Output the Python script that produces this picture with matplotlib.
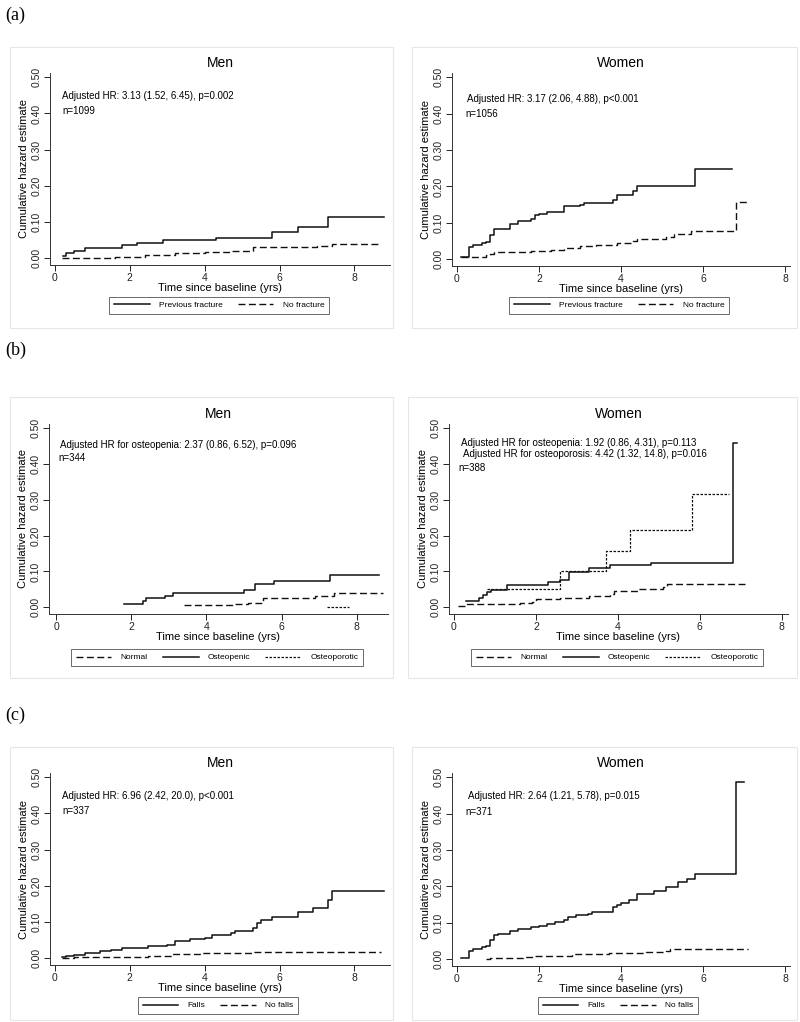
import matplotlib
matplotlib.use("Agg")
import matplotlib.pyplot as plt
from matplotlib.lines import Line2D
from matplotlib.patches import Rectangle

# ---- data (time in yrs, cumulative hazard) ----

# (a) previous fracture
a_men_prev_t = [0.22, 0.3, 0.5, 0.8, 1.8, 2.2, 2.9, 4.3, 5.8, 6.5, 7.3]
a_men_prev_h = [0.005, 0.013, 0.020, 0.028, 0.035, 0.042, 0.049, 0.057, 0.072, 0.085, 0.115]
a_men_prev_end = 8.8
a_men_none_t = [0.2, 1.6, 2.4, 3.2, 4.0, 4.7, 5.3, 7.0, 7.4]
a_men_none_h = [0.0, 0.004, 0.008, 0.013, 0.017, 0.021, 0.031, 0.034, 0.038]
a_men_none_end = 8.7

a_women_prev_t = [0.1, 0.3, 0.4, 0.6, 0.7, 0.8, 0.9, 1.3, 1.5, 1.8, 1.9, 2.0, 2.2, 2.6,
                  3.0, 3.1, 3.8, 3.9, 4.3, 4.4, 5.8]
a_women_prev_h = [0.005, 0.032, 0.040, 0.043, 0.048, 0.067, 0.082, 0.096, 0.105, 0.111,
                  0.120, 0.125, 0.130, 0.145, 0.150, 0.155, 0.162, 0.177, 0.186, 0.202, 0.247]
a_women_prev_end = 6.7
a_women_none_t = [0.1, 0.6, 0.7, 0.8, 0.9, 1.8, 2.3, 2.6, 3.0, 3.4, 3.9, 4.3, 4.4, 5.1,
                  5.3, 5.7, 6.8]
a_women_none_h = [0.005, 0.007, 0.010, 0.015, 0.019, 0.023, 0.025, 0.030, 0.035, 0.040,
                  0.045, 0.050, 0.055, 0.062, 0.070, 0.077, 0.157]
a_women_none_end = 7.1

# (b) bone density
b_men_normal_t = [3.4, 4.7, 5.1, 5.5, 6.9, 7.4]
b_men_normal_h = [0.005, 0.009, 0.013, 0.027, 0.031, 0.040]
b_men_normal_end = 8.7
b_men_penic_t = [1.8, 2.3, 2.4, 2.9, 3.1, 5.0, 5.3, 5.8, 7.3]
b_men_penic_h = [0.009, 0.018, 0.026, 0.032, 0.040, 0.048, 0.065, 0.073, 0.089]
b_men_penic_end = 8.6
b_men_porotic_t = [7.2]
b_men_porotic_h = [0.0]
b_men_porotic_end = 7.8

b_women_normal_t = [0.1, 0.3, 1.6, 1.9, 2.0, 2.6, 3.3, 3.8, 3.9, 4.5, 5.1, 5.2]
b_women_normal_h = [0.004, 0.008, 0.012, 0.015, 0.022, 0.027, 0.030, 0.038, 0.044, 0.050,
                    0.057, 0.065]
b_women_normal_end = 7.1
b_women_penic_t = [0.3, 0.6, 0.7, 0.8, 0.9, 1.3, 2.3, 2.6, 2.8, 3.3, 3.8, 4.8, 6.8]
b_women_penic_h = [0.018, 0.027, 0.035, 0.042, 0.049, 0.063, 0.070, 0.077, 0.097, 0.110,
                   0.117, 0.124, 0.458]
b_women_penic_end = 6.9
b_women_porotic_t = [0.8, 2.6, 3.7, 4.3, 5.8]
b_women_porotic_h = [0.050, 0.102, 0.156, 0.216, 0.317]
b_women_porotic_end = 6.7

# (c) falls
c_men_falls_t = [0.2, 0.3, 0.5, 0.8, 1.2, 1.5, 1.8, 2.5, 3.0, 3.2, 3.6, 4.0, 4.2, 4.7,
                 4.8, 5.3, 5.4, 5.5, 5.8, 6.5, 6.9, 7.3, 7.4]
c_men_falls_h = [0.002, 0.005, 0.009, 0.014, 0.019, 0.023, 0.028, 0.033, 0.037, 0.047,
                 0.052, 0.057, 0.063, 0.069, 0.074, 0.083, 0.097, 0.105, 0.114, 0.127,
                 0.140, 0.162, 0.185]
c_men_falls_end = 8.8
c_men_nofalls_t = [0.2, 0.5, 1.8, 2.5, 3.1, 3.9, 5.3]
c_men_nofalls_h = [0.0, 0.002, 0.004, 0.007, 0.011, 0.014, 0.017]
c_men_nofalls_end = 8.7

c_women_falls_t = [0.1, 0.3, 0.4, 0.6, 0.7, 0.8, 0.9, 1.0, 1.3, 1.5, 1.8, 2.0, 2.2, 2.4,
                   2.6, 2.7, 2.9, 3.2, 3.3, 3.8, 3.9, 4.0, 4.2, 4.4, 4.8, 5.1, 5.4, 5.6,
                   5.8, 6.8]
c_women_falls_h = [0.003, 0.022, 0.027, 0.032, 0.037, 0.053, 0.066, 0.068, 0.077, 0.082,
                   0.089, 0.092, 0.097, 0.102, 0.108, 0.115, 0.120, 0.125, 0.130, 0.142,
                   0.150, 0.155, 0.163, 0.179, 0.188, 0.199, 0.212, 0.219, 0.235, 0.487]
c_women_falls_end = 7.0
c_women_nofalls_t = [0.7, 0.8, 1.6, 1.9, 2.8, 3.7, 4.6, 5.1, 5.2]
c_women_nofalls_h = [0.0, 0.004, 0.007, 0.009, 0.013, 0.017, 0.019, 0.022, 0.028]
c_women_nofalls_end = 7.1

# annotation texts
a_men_text = ["Adjusted HR: 3.13 (1.52, 6.45), p=0.002", "n=1099"]
a_women_text = ["Adjusted HR: 3.17 (2.06, 4.88), p<0.001", "n=1056"]
b_men_text = ["Adjusted HR for osteopenia: 2.37 (0.86, 6.52), p=0.096", "n=344"]
b_women_text = ["Adjusted HR for osteopenia: 1.92 (0.86, 4.31), p=0.113",
                "Adjusted HR for osteoporosis: 4.42 (1.32, 14.8), p=0.016", "n=388"]
c_men_text = ["Adjusted HR: 6.96 (2.42, 20.0), p<0.001", "n=337"]
c_women_text = ["Adjusted HR: 2.64 (1.21, 5.78), p=0.015", "n=371"]

a_labels = ["Previous fracture", "No fracture"]
b_labels = ["Normal", "Osteopenic", "Osteoporotic"]
c_labels = ["Falls", "No falls"]

yticks = [0.0, 0.1, 0.2, 0.3, 0.4, 0.5]
xticks = [0, 2, 4, 6, 8]

# ---- styles ----
plt.rcParams['font.family'] = ['Liberation Sans', 'DejaVu Sans']
LINE = '#111111'
solid = dict(color=LINE, lw=1.1, linestyle='-')
dashed = dict(color=LINE, lw=1.0, linestyle=(0, (5, 2.5)))
dotted = dict(color=LINE, lw=0.9, linestyle=(0, (2, 1.2)))

W, H = 800, 1022
fig = plt.figure(figsize=(8, 10.22), dpi=100)


def px_rect(x0, y0, x1, y1):
    # pixel box (top-left origin) -> figure fraction [l, b, w, h]
    return [x0 / W, 1 - y1 / H, (x1 - x0) / W, (y1 - y0) / H]


def panel(rect, box, xlim, title, series, texts, text_pos, legend_center, legend_labels, ncol):
    # light outer frame
    l, b, w, h = px_rect(*box)
    fig.add_artist(Rectangle((l, b), w, h, transform=fig.transFigure,
                             fill=False, edgecolor='#e6e6e6', lw=0.8))
    ax = fig.add_axes(px_rect(*rect))
    for t, hz, end, style in series:
        xs = list(t) + [end]
        ys = list(hz) + [hz[-1]]
        ax.step(xs, ys, where='post', **style)
    ax.set_xlim(*xlim)
    ax.set_ylim(-0.019, 0.512)
    ax.set_xticks(xticks)
    ax.set_yticks(yticks)
    ax.set_yticklabels(["%.2f" % v for v in yticks], rotation=90, va='center')
    ax.tick_params(direction='out', length=4, width=0.7, labelsize=7.5, colors='#222222', pad=2)
    for s in ['top', 'right']:
        ax.spines[s].set_visible(False)
    for s in ['left', 'bottom']:
        ax.spines[s].set_linewidth(0.7)
        ax.spines[s].set_color('#333333')
    ax.set_xlabel("Time since baseline (yrs)", fontsize=8, labelpad=0)
    ax.set_ylabel("Cumulative hazard estimate", fontsize=8, labelpad=2)
    ax.set_title(title, fontsize=10, pad=4)
    for txt, (tx, ty) in zip(texts, text_pos):
        ax.text(tx, ty, txt, fontsize=7, ha='left', va='center')
    # legend below the axes
    handles = [Line2D([], [], **s[3]) for s in series]
    leg = fig.legend(handles, legend_labels, loc='center',
                     bbox_to_anchor=(legend_center[0] / W, 1 - legend_center[1] / H),
                     ncol=ncol, fontsize=6, frameon=True, fancybox=False,
                     handlelength=4.3, columnspacing=1.8, handletextpad=1.1,
                     borderpad=0.55, edgecolor='#444444')
    leg.get_frame().set_linewidth(0.7)
    return ax


# (a)
panel((50, 73, 390, 265), (10, 47, 393, 328), (-0.13, 8.95), "Men",
      [(a_men_prev_t, a_men_prev_h, a_men_prev_end, solid),
       (a_men_none_t, a_men_none_h, a_men_none_end, dashed)],
      a_men_text, [(0.19, 0.448), (0.19, 0.407)], (219, 305.5), a_labels, 2)
panel((452, 73, 790, 266), (412, 47, 797, 328), (-0.12, 8.12), "Women",
      [(a_women_prev_t, a_women_prev_h, a_women_prev_end, solid),
       (a_women_none_t, a_women_none_h, a_women_none_end, dashed)],
      a_women_text, [(0.24, 0.44), (0.2, 0.40)], (619, 305.5), a_labels, 2)

# (b)
panel((49, 424, 388, 614), (10, 397, 393, 678), (-0.19, 8.83), "Men",
      [(b_men_normal_t, b_men_normal_h, b_men_normal_end, dashed),
       (b_men_penic_t, b_men_penic_h, b_men_penic_end, solid),
       (b_men_porotic_t, b_men_porotic_h, b_men_porotic_end, dotted)],
      b_men_text, [(0.1, 0.453), (0.05, 0.417)], (217, 657.5), b_labels, 3)
panel((449, 424, 788, 614), (408, 397, 797, 678), (-0.12, 8.15), "Women",
      [(b_women_normal_t, b_women_normal_h, b_women_normal_end, dashed),
       (b_women_penic_t, b_women_penic_h, b_women_penic_end, solid),
       (b_women_porotic_t, b_women_porotic_h, b_women_porotic_end, dotted)],
      b_women_text, [(0.17, 0.458), (0.22, 0.428), (0.12, 0.389)], (617, 657.5), b_labels, 3)

# (c)
panel((50, 773, 390, 965), (10, 747, 393, 1020), (-0.13, 8.95), "Men",
      [(c_men_falls_t, c_men_falls_h, c_men_falls_end, solid),
       (c_men_nofalls_t, c_men_nofalls_h, c_men_nofalls_end, dashed)],
      c_men_text, [(0.19, 0.448), (0.19, 0.406)], (218, 1005.5), c_labels, 2)
panel((452, 773, 790, 966), (412, 747, 797, 1020), (-0.12, 8.12), "Women",
      [(c_women_falls_t, c_women_falls_h, c_women_falls_end, solid),
       (c_women_nofalls_t, c_women_nofalls_h, c_women_nofalls_end, dashed)],
      c_women_text, [(0.27, 0.448), (0.2, 0.405)], (618, 1005.5), c_labels, 2)

# panel letters
for lab, y in [("(a)", 15), ("(b)", 350), ("(c)", 715)]:
    fig.text(5 / W, 1 - y / H, lab, fontsize=13, family='Liberation Serif', va='center', ha='left')

fig.savefig("out.png", dpi=100, facecolor='white')
